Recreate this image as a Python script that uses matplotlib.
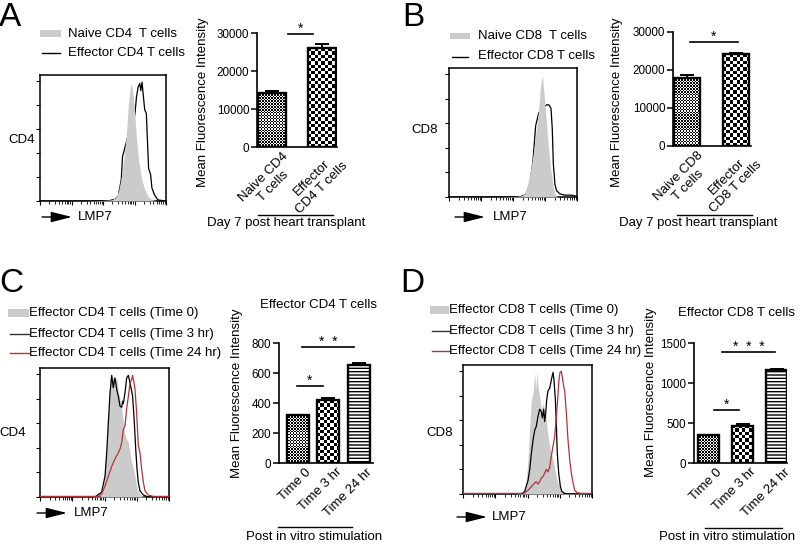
import numpy as np
import matplotlib
matplotlib.use("Agg")
import matplotlib.pyplot as plt
from matplotlib.patches import FancyArrowPatch, Rectangle
from matplotlib.lines import Line2D

plt.rcParams['font.family'] = ['Liberation Sans', 'DejaVu Sans']
plt.rcParams['hatch.linewidth'] = 1.0

W, H = 800, 547
fig = plt.figure(figsize=(W / 100, H / 100), dpi=100)

# ---------------- data ----------------
# Histograms: x = position across LMP7 axis (% of axis), y = % of max
A_naive_x = [0, 35, 50, 57, 59.7, 62.3, 64.5, 66.5, 68.5, 70.1, 71.5, 72.2, 73, 74, 75.3, 76.6, 78.4, 80.5, 83.1, 85.7, 88.3, 92, 100]
A_naive_y = [0, 0, 0.5, 1, 2.7, 8, 20, 35, 55, 80, 94, 98, 95, 88, 71, 52, 33, 19, 9.5, 4, 1.4, 0, 0]
A_eff_x = [0, 40, 55, 59.7, 62.3, 64.5, 65.5, 67.5, 70.1, 72.7, 75.3, 76.6, 77.9, 79.2, 80, 81, 81.8, 83.1, 84.4, 85.2, 86.2, 87.8, 88.8, 90.9, 93.5, 96.1, 100]
A_eff_y = [0, 0, 0.3, 1.5, 5, 18, 37, 45, 55, 63, 72, 87, 95, 98, 92, 99, 90, 76, 73, 52, 27, 22, 11, 5, 1, 0.5, 0]

B_naive_x = [0, 40, 52, 56.8, 59.4, 62, 64.6, 67.2, 69.8, 71.6, 72.9, 74.2, 75.5, 77.6, 79.7, 81.5, 83.3, 86, 100]
B_naive_y = [0, 0, 0.5, 1, 3, 13, 27, 46, 69, 91, 99, 85, 69, 41, 21, 7.5, 1, 0, 0]
B_eff_x = [0, 45, 56, 60, 63, 65.5, 67.7, 70, 72, 75, 76.3, 78.1, 79.7, 80.7, 81.5, 82.8, 84.1, 86.7, 90.6, 95.8, 100]
B_eff_y = [0, 0, 0.3, 2, 10, 28, 58, 68, 72, 74, 75, 75, 72, 55, 27, 10, 5, 2.5, 1.5, 1.5, 0.5]

C_t0_x = [0, 40, 46.5, 49.1, 50.4, 51.7, 53.0, 54.3, 55.6, 56.8, 58.1, 59.4, 60.7, 62.0, 63.3, 64.6, 65.9, 67.2, 68.5, 69.8, 71.1, 72.4, 73.6, 74.9, 76.2, 78.8, 81.4, 100]
C_t0_y = [0, 0, 0.5, 6.5, 28, 42, 69, 99, 93, 99, 90, 99, 85, 80, 72, 61, 50, 47, 44, 36, 28, 23, 17, 9, 4, 1, 0, 0]
C_3h_x = [0, 42.6, 47.8, 50.4, 51.7, 53.0, 54.3, 55.6, 56.8, 58.1, 59.4, 60.7, 62.0, 63.3, 64.1, 64.6, 65.9, 67.2, 68.5, 69.8, 71.1, 71.8, 73.1, 74.2, 75.2, 76.2, 77.5, 80.1, 84.0, 100]
C_3h_y = [0, 0, 4, 17, 36, 61, 85, 99, 89, 97, 88, 82, 74, 73, 78, 76, 85, 97, 99, 93, 86, 82, 61, 39, 23, 12, 5, 1.6, 0, 0]
C_24h_x = [0, 45.2, 47.8, 50.4, 53.0, 55.6, 58.1, 60.7, 62.0, 63.3, 64.6, 65.9, 67.2, 68.5, 69.8, 71.1, 71.8, 72.9, 73.6, 74.9, 76.2, 77.5, 78.8, 80.1, 81.4, 84.0, 87.9, 100]
C_24h_y = [0.5, 0.5, 2.4, 9, 17, 25, 31, 36, 39, 44, 55, 58, 72, 82, 93, 96, 99, 93, 88, 69, 42, 36, 23, 12, 5, 1.6, 0.5, 0.5]

D_t0_x = [0, 40, 46.5, 49.1, 50.4, 51.7, 53, 54.3, 55.6, 56.3, 57.4, 58.1, 59.4, 60.7, 62, 62.8, 63.8, 64.6, 65.9, 67.2, 68.5, 69.8, 71.1, 72.4, 73.6, 74.9, 77.5, 100]
D_t0_y = [0, 0, 0.5, 11, 28, 55, 77, 82, 99, 85, 99, 88, 80, 69, 74, 69, 69, 60, 47, 39, 33, 28, 20, 14, 9, 5, 0.5, 0]
D_3h_x = [0, 45.2, 47.8, 50.4, 51.7, 53, 54.3, 55.6, 56.8, 58.1, 59.4, 60.7, 61.5, 62.5, 63.3, 64.1, 64.9, 65.9, 67.2, 68.5, 69.8, 70.5, 71.6, 72.4, 73.1, 74.2, 75.5, 76.7, 78.8, 82.7, 100]
D_3h_y = [0, 0, 2, 11, 20, 33, 44, 52, 55, 63, 69, 67, 62, 69, 59, 66, 77, 84, 86, 93, 99, 93, 77, 55, 33, 17, 6, 2, 0.5, 0, 0]
D_24h_x = [0, 45, 47.8, 50.4, 53, 55.6, 56.8, 58.1, 59.4, 60.7, 62, 63.3, 64.6, 65.9, 67.2, 68.5, 69.8, 71.1, 72.4, 73.6, 74.4, 75.2, 76.2, 77.3, 78.3, 78.8, 80.1, 81.4, 82.7, 84, 85.3, 86.6, 88.6, 91.7, 100]
D_24h_y = [0.5, 0.5, 1, 3, 6, 9, 10, 8, 10, 13, 14, 17, 20, 18, 22, 31, 39, 47, 63, 80, 93, 99, 100, 93, 86, 85, 66, 44, 28, 17, 9, 3, 1, 0.5, 0.5]

# Bar charts (MFI)
A_cats = ["Naive CD4\nT cells", "Effector\nCD4 T cells"]
A_vals = [14100, 26000]
A_errs = [600, 1100]
B_cats = ["Naive CD8\nT cells", "Effector\nCD8 T cells"]
B_vals = [17800, 24200]
B_errs = [900, 400]
C_cats = ["Time 0", "Time 3 hr", "Time 24 hr"]
C_vals = [320, 420, 652]
C_errs = [3, 11, 14]
D_cats = ["Time 0", "Time 3 hr", "Time 24 hr"]
D_vals = [350, 467, 1167]
D_errs = [3, 15, 10]

A_ticks = [0, 10000, 20000, 30000]
B_ticks = [0, 10000, 20000, 30000]
C_ticks = [0, 200, 400, 600, 800]
D_ticks = [0, 500, 1000, 1500]

# significance annotations: (x_start, x_end, y, label)
A_sig = [(0.32, 0.83, 29700, "*")]
B_sig = [(0.07, 1.03, 27500, "*")]
C_sig = [(-0.01, 0.81, 513, "*"), (0.14, 1.82, 773, "*  *")]
D_sig = [(0.16, 0.9, 662, "*"), (0.39, 1.96, 1388, "*  *  *")]

GRAY = '#cbcbcb'
RED = '#b3333b'
FS = 9.5
TFS = 8.4


def rect(l, t, r, b):
    return [l / W, 1 - b / H, (r - l) / W, (b - t) / H]


def ftext(x, y, s, **kw):
    kw.setdefault('fontsize', FS)
    fig.text(x / W, 1 - y / H, s, **kw)


def fline(x0, x1, y, color='black', lw=1.0):
    fig.add_artist(Line2D([x0 / W, x1 / W], [1 - y / H, 1 - y / H],
                          transform=fig.transFigure, color=color, lw=lw))


def farrow(x0, x1, y):
    fig.add_artist(FancyArrowPatch((x0 / W, 1 - y / H), (x1 / W, 1 - y / H),
                                   transform=fig.transFigure,
                                   arrowstyle='-|>,head_length=1.6,head_width=0.4',
                                   mutation_scale=8, lw=1.0, color='black',
                                   shrinkA=0, shrinkB=0))


def hist_axes(box, fills, lines, lines_on_top):
    ax = fig.add_axes(rect(*box))
    for xs, ys in fills:
        ax.fill_between(xs, ys, 0, color=GRAY, lw=0, zorder=3)
    for xs, ys, c in lines:
        ax.plot(xs, ys, color=c, lw=0.9, zorder=4 if lines_on_top else 2)
    ax.set_xlim(0, 100)
    ax.set_ylim(0, 105)
    major = [0, 25, 50, 75, 100]
    minor = []
    for k in range(4):
        for m in range(2, 10):
            minor.append(25 * k + 25 * np.log10(m))
    ax.set_xticks(major)
    ax.set_xticks(minor, minor=True)
    ax.set_yticks([0, 20, 40, 60, 80, 100])
    ax.tick_params(axis='both', which='major', length=3, width=0.8, direction='out',
                   labelbottom=False, labelleft=False)
    ax.tick_params(axis='both', which='minor', length=1.8, width=0.6, direction='out')
    for s in ax.spines.values():
        s.set_linewidth(1.1)
    return ax


def pattern_fill(ax, bar, kind, box_px, xlim, ylim):
    l, t, r, b = box_px
    dx_per_px = (xlim[1] - xlim[0]) / (r - l)
    dy_per_px = (ylim[1] - ylim[0]) / (b - t)
    x0, y0 = bar.get_x(), bar.get_y()
    w, h = bar.get_width(), bar.get_height()
    cell = 1.45 if kind == 'fine' else 3.3
    nx = max(1, int(round(w / dx_per_px / cell)))
    ny = max(1, int(round(h / dy_per_px / cell)))
    ii, jj = np.meshgrid(np.arange(nx), np.arange(ny))
    img = ((ii + jj) % 2).astype(float)
    x1 = x0 + nx * cell * dx_per_px
    y1top = y0 + h
    ybot = y1top - ny * cell * dy_per_px
    im = ax.imshow(img, extent=(x0, x1, ybot, y1top), cmap='gray', vmin=0, vmax=1,
                   interpolation='nearest', aspect='auto', zorder=2)
    im.set_clip_path(bar)


def bar_axes(box, xlim, cats, vals, errs, ticks, sig, kinds, width, lab_dx, lab_dy):
    ax = fig.add_axes(rect(*box))
    x = np.arange(len(cats))
    base = ax.bar(x, vals, width=width, color='white', edgecolor='none', zorder=1)
    ylim = (ticks[0], ticks[-1])
    for bar, kind in zip(base, kinds):
        if kind in ('fine', 'coarse'):
            pattern_fill(ax, bar, kind, box, xlim, ylim)
    ax.bar(x, vals, width=width, fill=False, edgecolor='black', lw=1.7, zorder=3)
    for xi, v, k in zip(x, vals, kinds):
        if k == 'hlines':
            ax.bar([xi], [v], width=width, fill=False, edgecolor='black', lw=0,
                   hatch='-----', zorder=2)
    ax.errorbar(x, vals, yerr=[np.zeros(len(errs)), errs], fmt='none', ecolor='black',
                elinewidth=1.4, capsize=5, capthick=1.4, zorder=4)
    ax.set_xlim(*xlim)
    ax.set_ylim(*ylim)
    ax.set_yticks(ticks)
    ax.set_yticklabels([str(t) for t in ticks], fontsize=TFS)
    ax.set_xticks(x)
    ax.set_xticklabels([])
    ax.tick_params(axis='y', length=4, width=1.1, pad=1.5)
    ax.tick_params(axis='x', length=0)
    for s in ['top', 'right']:
        ax.spines[s].set_visible(False)
    for s in ['left', 'bottom']:
        ax.spines[s].set_linewidth(1.2)
    ax.patch.set_alpha(0)
    # category labels
    for xi, c in zip(x, cats):
        ax.annotate(c, xy=(xi, 0), xycoords=('data', 'axes fraction'),
                    xytext=(lab_dx, lab_dy), textcoords='offset pixels',
                    rotation=45, ha='right', va='top', rotation_mode='anchor',
                    multialignment='center', fontsize=FS, annotation_clip=False)
    # significance
    for (s0, s1, y, lab) in sig:
        ax.plot([s0, s1], [y, y], color='black', lw=1.2, clip_on=False)
        ax.annotate(lab, xy=((s0 + s1) / 2, y), xytext=(0, 1), textcoords='offset pixels',
                    ha='center', va='baseline', fontsize=FS + 0.5, annotation_clip=False)
    return ax


# ---------------- Panel A ----------------
ftext(-1, 26, "A", fontsize=24, va='baseline')
hist_axes((40, 75, 166, 201), [(A_naive_x, A_naive_y)], [(A_eff_x, A_eff_y, 'black')], False)
fig.add_artist(Rectangle((40 / W, 1 - 37 / H), 21 / W, 7 / H, transform=fig.transFigure,
                         color=GRAY, lw=0))
ftext(68, 34, "Naive CD4  T cells", va='center')
fline(42, 60, 53)
ftext(68, 53, "Effector CD4 T cells", va='center')
ftext(22, 140, "CD4", va='center', ha='center')
farrow(42, 72, 217)
ftext(78, 217, "LMP7", va='center')
bar_axes((257, 33, 337, 147), (-0.30, 1.31), A_cats, A_vals, A_errs, A_ticks, A_sig,
         ['fine', 'coarse'], 0.56, 10, -3)
ftext(203, 102, "Mean Fluorescence Intensity", rotation=90, va='center', ha='center')
fline(258, 333, 215)
ftext(286, 223, "Day 7 post heart transplant", ha='center', va='center')

# ---------------- Panel B ----------------
ftext(402, 26, "B", fontsize=24, va='baseline')
hist_axes((449, 68, 577, 197), [(B_naive_x, B_naive_y)], [(B_eff_x, B_eff_y, 'black')], False)
fig.add_artist(Rectangle((450 / W, 1 - 39 / H), 20 / W, 6 / H, transform=fig.transFigure,
                         color=GRAY, lw=0))
ftext(478, 36, "Naive CD8  T cells", va='center')
fline(452, 468, 57)
ftext(478, 56, "Effector CD8 T cells", va='center')
ftext(425, 130, "CD8", va='center', ha='center')
farrow(455, 485, 217)
ftext(493, 217, "LMP7", va='center')
bar_axes((673, 32, 751, 146), (-0.28, 1.30), B_cats, B_vals, B_errs, B_ticks, B_sig,
         ['fine', 'coarse'], 0.53, 10, -3)
ftext(617, 102, "Mean Fluorescence Intensity", rotation=90, va='center', ha='center')
fline(677, 752, 215)
ftext(698, 223, "Day 7 post heart transplant", ha='center', va='center')

# ---------------- Panel C ----------------
ftext(-1, 292, "C", fontsize=24, va='baseline')
hist_axes((40, 368, 169, 497), [(C_t0_x, C_t0_y)],
          [(C_3h_x, C_3h_y, 'black'), (C_24h_x, C_24h_y, RED)], True)
fig.add_artist(Rectangle((8 / W, 1 - 317 / H), 21 / W, 8 / H, transform=fig.transFigure,
                         color=GRAY, lw=0))
ftext(29, 313, "Effector CD4 T cells (Time 0)", va='center')
fline(10, 29, 334, color='#333333')
ftext(29, 334, "Effector CD4 T cells (Time 3 hr)", va='center')
fline(10, 29, 353, color=RED)
ftext(29, 353, "Effector CD4 T cells (Time 24 hr)", va='center')
ftext(13, 433, "CD4", va='center', ha='center')
farrow(37, 67, 513)
ftext(74, 513, "LMP7", va='center')
bar_axes((279, 343, 373, 463), (-0.60, 2.44), C_cats, C_vals, C_errs, C_ticks, C_sig,
         ['fine', 'coarse', 'hlines'], 0.71, 7, -3)
ftext(318, 305, "Effector CD4 T cells", ha='center', va='center')
ftext(237, 393, "Mean Fluorescence Intensity", rotation=90, va='center', ha='center')
fline(278, 352, 527)
ftext(314, 537, "Post in vitro stimulation", ha='center', va='center')

# ---------------- Panel D ----------------
ftext(400, 292, "D", fontsize=24, va='baseline')
hist_axes((463, 365, 592, 494), [(D_t0_x, D_t0_y)],
          [(D_3h_x, D_3h_y, 'black'), (D_24h_x, D_24h_y, RED)], True)
fig.add_artist(Rectangle((430 / W, 1 - 314 / H), 19 / W, 8 / H, transform=fig.transFigure,
                         color=GRAY, lw=0))
ftext(449, 310, "Effector CD8 T cells (Time 0)", va='center')
fline(432, 450, 331, color='#333333')
ftext(449, 331, "Effector CD8 T cells (Time 3 hr)", va='center')
fline(432, 450, 351, color=RED)
ftext(449, 351, "Effector CD8 T cells (Time 24 hr)", va='center')
ftext(440, 433, "CD8", va='center', ha='center')
farrow(457, 487, 517)
ftext(492, 517, "LMP7", va='center')
bar_axes((694, 343, 787, 463), (-0.44, 2.31), D_cats, D_vals, D_errs, D_ticks, D_sig,
         ['fine', 'coarse', 'hlines'], 0.62, 7, -3)
ftext(737, 313, "Effector CD8 T cells", ha='center', va='center')
ftext(651, 392, "Mean Fluorescence Intensity", rotation=90, va='center', ha='center')
fline(705, 782, 528)
ftext(727, 537, "Post in vitro stimulation", ha='center', va='center')

fig.savefig("out.png", dpi=100)
